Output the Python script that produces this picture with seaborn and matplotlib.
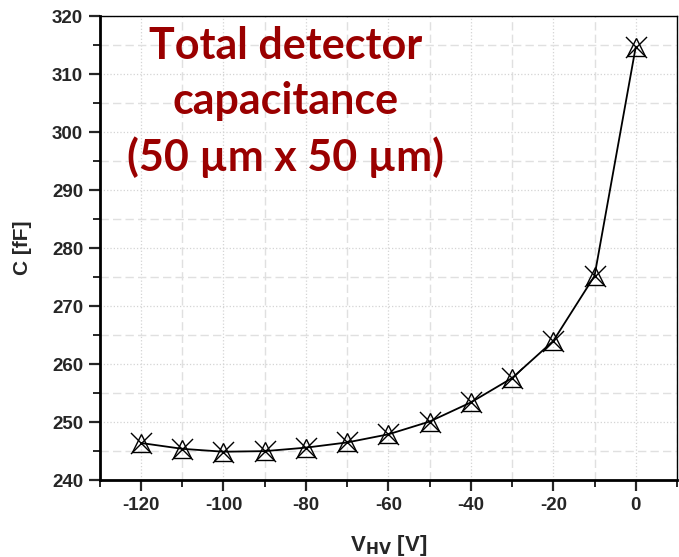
import matplotlib
matplotlib.use("Agg")
import matplotlib.pyplot as plt
from matplotlib.ticker import MultipleLocator
import seaborn as sns
import pandas as pd

# bias voltage and measured capacitance
v_hv = [-120, -110, -100, -90, -80, -70, -60, -50, -40, -30, -20, -10, 0]
cap_ff = [246.4, 245.4, 244.9, 245.0, 245.6, 246.5, 247.9, 250.1, 253.4, 257.6, 264.0, 275.2, 314.7]

df = pd.DataFrame({"V": v_hv, "C": cap_ff})

sns.set_style("white")
plt.rcParams['font.family'] = ['Liberation Sans', 'DejaVu Sans']
plt.rcParams['axes.unicode_minus'] = False

fig = plt.figure(figsize=(6.79, 5.57), dpi=100)
ax = fig.add_axes([0.147, 0.138, 0.85, 0.833])

# grid: dotted at major ticks, dashed at minor ticks
ax.xaxis.set_major_locator(MultipleLocator(20))
ax.xaxis.set_minor_locator(MultipleLocator(10))
ax.yaxis.set_major_locator(MultipleLocator(10))
ax.yaxis.set_minor_locator(MultipleLocator(5))
ax.grid(which='major', color='#d4d4d4', linestyle=':', linewidth=0.9)
ax.grid(which='minor', color='#e0e0e0', linestyle=(0, (6, 3)), linewidth=1.0)
ax.set_axisbelow(True)

sns.lineplot(data=df, x="V", y="C", ax=ax, color='black', linewidth=1.3,
             marker='^', markersize=13, markerfacecolor='none',
             markeredgecolor='black', markeredgewidth=1.0)
sns.scatterplot(data=df, x="V", y="C", ax=ax, marker='x', s=230,
                color='black', linewidth=1.0)

ax.set_xlim(-130, 10)
ax.set_ylim(240, 320)

for side in ['left', 'bottom']:
    ax.spines[side].set_linewidth(2.0)
for side in ['top', 'right']:
    ax.spines[side].set_linewidth(1.0)
for s in ax.spines.values():
    s.set_color('black')

ax.tick_params(which='major', direction='out', length=8, width=1.6,
               labelsize=13.5, pad=4, bottom=True, left=True)
ax.tick_params(which='minor', direction='out', length=5, width=1.4,
               bottom=True, left=True)
for lbl in ax.get_xticklabels() + ax.get_yticklabels():
    lbl.set_fontweight('bold')

ax.set_xlabel(r"V$_{\mathbf{HV}}$ [V]", fontsize=16, fontweight='bold', labelpad=14)
ax.set_ylabel("C [fF]", fontsize=15, fontweight='bold', labelpad=14)

ax.text(-85, 305.2, "Total detector\ncapacitance\n(50 µm x 50 µm)", ha='center', va='center',
        fontsize=31, fontweight='bold', color='#9a0000', linespacing=1.45,
        family=['Lato', 'DejaVu Sans'])

fig.savefig("out.png", dpi=100)
